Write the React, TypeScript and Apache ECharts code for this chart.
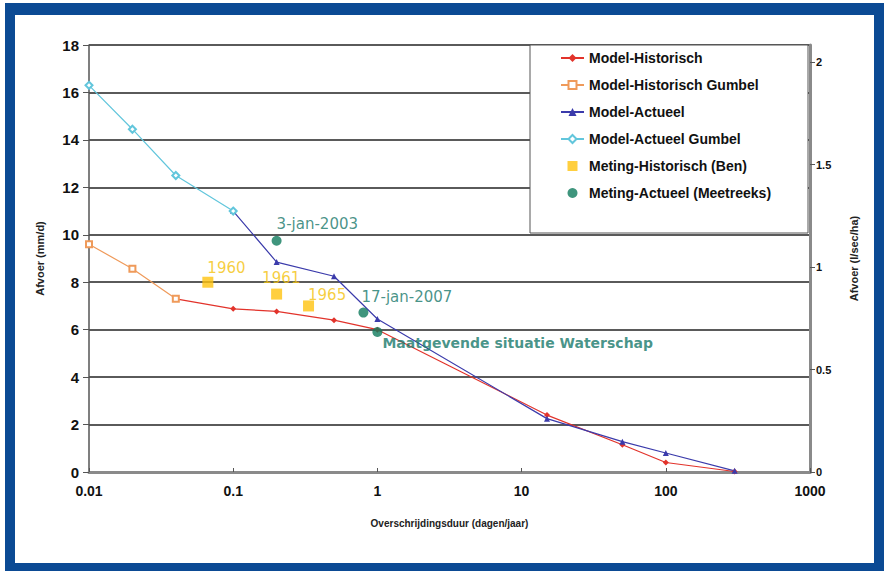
import React, { useEffect, useRef } from "react";
import * as echarts from "echarts";

// ---- data ----
const histX = [0.04, 0.1, 0.2, 0.5, 1, 15, 50, 100, 300];
const histY = [7.3, 6.88, 6.77, 6.4, 6.0, 2.4, 1.15, 0.4, 0.02];

const histGumbelX = [0.01, 0.02, 0.04];
const histGumbelY = [9.6, 8.57, 7.3];

const actX = [0.1, 0.2, 0.5, 1, 15, 50, 100, 300];
const actY = [11.0, 8.85, 8.25, 6.45, 2.25, 1.28, 0.8, 0.05];

const actGumbelX = [0.01, 0.02, 0.04, 0.1];
const actGumbelY = [16.3, 14.45, 12.5, 11.0];

const measHistX = [0.0667, 0.2, 0.333];
const measHistY = [8.0, 7.5, 7.0];
const measHistLabels = ["1960", "1961", "1965"];

const measActX = [0.2, 0.8, 1.0];
const measActY = [9.75, 6.72, 5.9];
const measActLabels = ["3-jan-2003", "17-jan-2007", "Maatgevende situatie Waterschap"];

const seriesNames = [
  "Model-Historisch",
  "Model-Historisch Gumbel",
  "Model-Actueel",
  "Model-Actueel Gumbel",
  "Meting-Historisch (Ben)",
  "Meting-Actueel (Meetreeks)",
];

const xTicks = [0.01, 0.1, 1, 10, 100, 1000];
const leftMax = 18;
const rightMax = 18 / 8.64; // mm/d -> l/sec/ha

const xName = "Overschrijdingsduur (dagen/jaar)";
const leftName = "Afvoer (mm/d)";
const rightName = "Afvoer (l/sec/ha)";

// ---- styling (not data) ----
const measHistOffsets: [number, number][] = [[-6, -14], [-20, -16], [-6, -11]];
const measActOffsets: [number, number][] = [[-5, -17], [-7, -16], [0, 11]];
const legendIcons = [undefined, undefined, undefined, undefined, "path://M0,0h10v10h-10z", "circle"];

const zip = (xs: number[], ys: number[]) => xs.map((x, i) => [x, ys[i]]);

export default function App() {
  const ref = useRef<HTMLDivElement>(null);
  useEffect(() => {
    if (!ref.current) return;
    const chart = echarts.init(ref.current, undefined, { renderer: "svg" });
    const font = "Liberation Sans, Arial, sans-serif";
    const blue = "#0b4a94";
    const option: any = {
      animation: false,
      backgroundColor: "#ffffff",
      grid: { left: 89, right: 76, top: 45, bottom: 99, containLabel: false },
      graphic: [
        { type: "rect", shape: { x: 5, y: 3, width: 10, height: 568 }, style: { fill: blue }, z: 100 },
        { type: "rect", shape: { x: 5, y: 3, width: 878, height: 12 }, style: { fill: blue }, z: 100 },
        { type: "rect", shape: { x: 874, y: 3, width: 10, height: 568 }, style: { fill: blue }, z: 100 },
        { type: "rect", shape: { x: 5, y: 563, width: 878, height: 8 }, style: { fill: blue }, z: 100 },
        {
          type: "rect",
          shape: { x: 530, y: 45, width: 278, height: 188 },
          style: { fill: "#ffffff", stroke: "#555555", lineWidth: 1 },
          z: 3,
        },
      ],
      legend: {
        orient: "vertical",
        left: 555,
        top: 46,
        itemWidth: 23,
        itemHeight: 10,
        itemGap: 13,
        z: 5,
        data: seriesNames.map((n, i) =>
          legendIcons[i] ? { name: n, icon: legendIcons[i] } : { name: n }
        ),
        textStyle: { fontFamily: font, fontWeight: "bold", fontSize: 14, lineHeight: 14, color: "#111" },
      },
      xAxis: {
        type: "log",
        logBase: 10,
        min: xTicks[0],
        max: xTicks[xTicks.length - 1],
        name: xName,
        nameLocation: "middle",
        nameGap: 46,
        nameTextStyle: { fontFamily: font, fontSize: 10, fontWeight: "bold", color: "#222" },
        axisLine: { show: true, lineStyle: { color: "#8a8a8a", width: 3 } },
        axisTick: { show: true, inside: true, length: 4, lineStyle: { color: "#555" } },
        splitLine: { show: false },
        axisLabel: {
          margin: 12,
          fontFamily: font,
          fontWeight: "bold",
          fontSize: 14,
          color: "#111",
          formatter: (v: number) => String(+Number(v).toPrecision(3)),
        },
      },
      yAxis: [
        {
          type: "value",
          min: 0,
          max: leftMax,
          interval: 2,
          name: leftName,
          nameLocation: "middle",
          nameRotate: 90,
          nameGap: 44,
          nameTextStyle: { fontFamily: font, fontSize: 11, fontWeight: "bold", color: "#222" },
          axisLine: { show: true, lineStyle: { color: "#555", width: 1.5 } },
          axisTick: { show: true, length: 6, lineStyle: { color: "#555" } },
          splitLine: { show: true, lineStyle: { color: "#5a5a5a", width: 2 } },
          axisLabel: { margin: 10, fontFamily: font, fontWeight: "bold", fontSize: 15, color: "#111" },
        },
        {
          type: "value",
          min: 0,
          max: rightMax,
          interval: 0.5,
          position: "right",
          name: rightName,
          nameLocation: "middle",
          nameRotate: 90,
          nameGap: 38,
          nameTextStyle: { fontFamily: font, fontSize: 11, fontWeight: "bold", color: "#222" },
          axisLine: { show: true, lineStyle: { color: "#8a8a8a", width: 3 } },
          axisTick: { show: true, length: 5, lineStyle: { color: "#555" } },
          splitLine: { show: false },
          axisLabel: {
            margin: 6,
            fontFamily: font,
            fontWeight: "bold",
            fontSize: 11,
            color: "#111",
            showMaxLabel: false,
            formatter: (v: number) => (Math.abs(v * 2 - Math.round(v * 2)) < 1e-6 ? String(v) : ""),
          },
        },
      ],
      series: [
        {
          name: seriesNames[0],
          type: "line",
          data: zip(histX, histY),
          symbol: "diamond",
          symbolSize: 6,
          color: "#e2332b",
          lineStyle: { width: 1.2 },
        },
        {
          name: seriesNames[1],
          type: "line",
          data: zip(histGumbelX, histGumbelY),
          symbol: "emptyRect",
          symbolSize: 6,
          color: "#ef9a5a",
          lineStyle: { width: 1.2 },
        },
        {
          name: seriesNames[2],
          type: "line",
          data: zip(actX, actY),
          symbol: "triangle",
          symbolSize: 6,
          color: "#3b3bab",
          lineStyle: { width: 1.2 },
        },
        {
          name: seriesNames[3],
          type: "line",
          data: zip(actGumbelX, actGumbelY),
          symbol: "emptyDiamond",
          symbolSize: 7,
          color: "#62c6dc",
          lineStyle: { width: 1.2 },
        },
        {
          name: seriesNames[4],
          type: "scatter",
          symbol: "rect",
          symbolSize: 11,
          color: "#ffc30f",
          z: 4,
          data: measHistX.map((x, i) => ({
            value: [x, measHistY[i]],
            label: {
              show: true,
              formatter: measHistLabels[i],
              position: "right",
              distance: 0,
              offset: measHistOffsets[i],
              color: "#f4c20d",
              fontFamily: "DejaVu Sans, sans-serif",
              fontSize: 15,
            },
          })),
        },
        {
          name: seriesNames[5],
          type: "scatter",
          symbol: "circle",
          symbolSize: 10,
          color: "#0f7a5c",
          z: 4,
          data: measActX.map((x, i) => ({
            value: [x, measActY[i]],
            label: {
              show: true,
              formatter: measActLabels[i],
              position: "right",
              distance: 0,
              offset: measActOffsets[i],
              color: "#17786a",
              fontFamily: "DejaVu Sans, sans-serif",
              fontWeight: i === 2 ? "bold" : "normal",
              fontSize: i === 2 ? 14 : 15,
            },
          })),
        },
      ],
    };
    chart.setOption(option);
    return () => chart.dispose();
  }, []);
  return (
    <div
      ref={ref}
      style={{ position: "absolute", left: 0, top: 0, width: 886, height: 571 }}
    />
  );
}
